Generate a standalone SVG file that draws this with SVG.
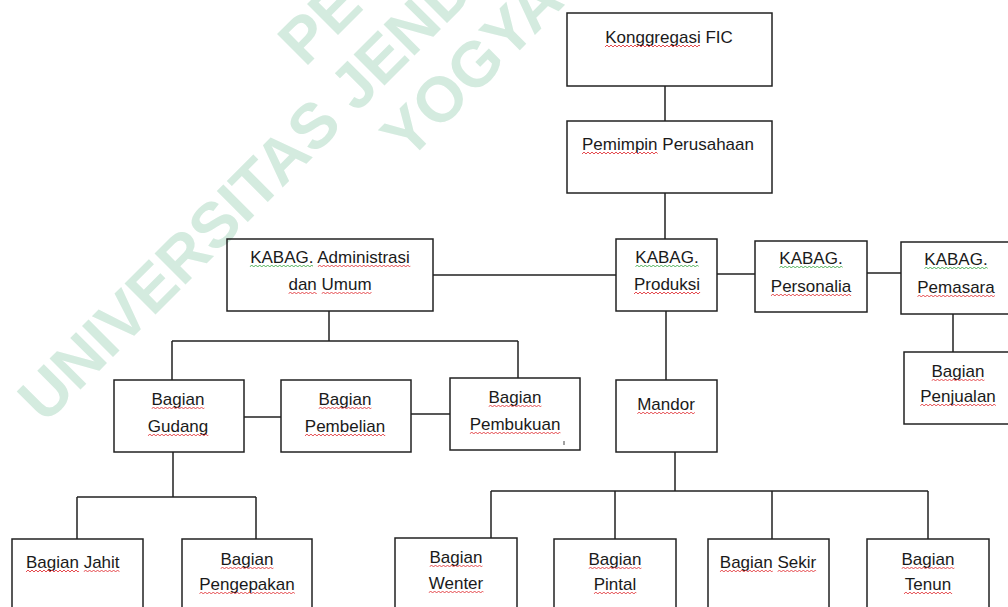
<svg xmlns="http://www.w3.org/2000/svg" xmlns:xlink="http://www.w3.org/1999/xlink" width="1008" height="607" viewBox="0 0 1008 607">
<style>
.box{fill:none;stroke:#222;stroke-width:1.5}
.ln{fill:none;stroke:#222;stroke-width:1.5}
.t{font-family:"Liberation Sans",Arial,sans-serif;font-size:17px;fill:#1a1a1a;text-anchor:middle}
.ts{font-family:"Liberation Sans",Arial,sans-serif;font-size:17px;fill:#1a1a1a}
.wm{font-family:"Liberation Sans",Arial,sans-serif;font-size:63.6px;font-weight:bold;fill:#d4ebdf}
.r{stroke:#e2383c}
.g{stroke:#3ea84a}
</style>
<defs>
<path id="sq" fill="none" stroke-width="0.9" d="M0 2.5l2-2 2 2 2-2 2 2 2-2 2 2 2-2 2 2 2-2 2 2 2-2 2 2 2-2 2 2 2-2 2 2 2-2 2 2 2-2 2 2 2-2 2 2 2-2 2 2 2-2 2 2 2-2 2 2 2-2 2 2 2-2 2 2 2-2 2 2 2-2 2 2 2-2 2 2 2-2 2 2 2-2 2 2 2-2 2 2 2-2 2 2 2-2 2 2 2-2 2 2 2-2 2 2 2-2 2 2 2-2 2 2 2-2 2 2 2-2 2 2 2-2 2 2 2-2 2 2"/>
</defs>
<rect width="1008" height="607" fill="#fff"/>
<g id="watermark" transform="rotate(-45)">
<text class="wm" x="167.6" y="263.8">PE</text>
<text class="wm" x="-268.7" y="332.3">UNIVERSITAS JEND</text>
<text class="wm" x="174" y="403">YOGYA</text>
</g>
<g id="connectors">
<path class="ln" d="M665 86V121M665 193V239M433 275H616M717 274H755M867 273H901M953 314V352M666 311V380"/>
<path class="ln" d="M329 311V341M172 341H518M172 341V380M518 341V378M244 417H281M411 414H450"/>
<path class="ln" d="M173 452V497M77 497H256M77 497V539M256 497V539"/>
<path class="ln" d="M675 452V491M491 491H928M491 491V538M615 491V539M772 491V539M928 491V539"/>
</g>
<g id="n-konggregasi">
<rect class="box" x="567" y="13" width="205" height="73"/>
<text class="t" x="669" y="43">Konggregasi FIC</text>
<svg x="605" y="44.5" width="95" height="3"><use href="#sq" class="r"/></svg>
</g>
<g id="n-pemimpin">
<rect class="box" x="567" y="121" width="205" height="72"/>
<text class="t" x="668" y="150">Pemimpin Perusahaan</text>
<svg x="582" y="151.5" width="75.6" height="3"><use href="#sq" class="r"/></svg>
</g>
<g id="n-admin">
<rect class="box" x="227" y="239" width="206" height="72"/>
<text class="t" x="330" y="263">KABAG. Administrasi</text>
<text class="t" x="330" y="290">dan Umum</text>
<svg x="249.7" y="264.5" width="63.3" height="3"><use href="#sq" class="g"/></svg>
<svg x="317.7" y="264.5" width="92.6" height="3"><use href="#sq" class="r"/></svg>
<svg x="288.4" y="291.5" width="28.4" height="3"><use href="#sq" class="r"/></svg>
<svg x="321.5" y="291.5" width="50" height="3"><use href="#sq" class="r"/></svg>
</g>
<g id="n-produksi">
<rect class="box" x="616" y="239" width="101" height="72"/>
<text class="t" x="667" y="263">KABAG.</text>
<text class="t" x="667" y="290">Produksi</text>
<svg x="635.3" y="264.5" width="63.3" height="3"><use href="#sq" class="g"/></svg>
<svg x="634" y="291.5" width="66.1" height="3"><use href="#sq" class="r"/></svg>
</g>
<g id="n-personalia">
<rect class="box" x="755" y="241" width="112" height="71"/>
<text class="t" x="811" y="264">KABAG.</text>
<text class="t" x="811" y="292">Personalia</text>
<svg x="779.3" y="265.5" width="63.3" height="3"><use href="#sq" class="g"/></svg>
<svg x="770.8" y="293.5" width="80.3" height="3"><use href="#sq" class="r"/></svg>
</g>
<g id="n-pemasara">
<rect class="box" x="901" y="242" width="120" height="72"/>
<text class="t" x="956" y="265">KABAG.</text>
<text class="t" x="956" y="293">Pemasara</text>
<svg x="924.3" y="266.5" width="63.3" height="3"><use href="#sq" class="g"/></svg>
<svg x="917.3" y="294.5" width="77.5" height="3"><use href="#sq" class="r"/></svg>
</g>
<g id="n-penjualan">
<rect class="box" x="904" y="352" width="120" height="72"/>
<text class="t" x="958" y="377">Bagian</text>
<text class="t" x="958" y="402">Penjualan</text>
<svg x="931.5" y="378.5" width="52.9" height="3"><use href="#sq" class="r"/></svg>
<svg x="920.2" y="403.5" width="75.6" height="3"><use href="#sq" class="r"/></svg>
</g>
<g id="n-gudang">
<rect class="box" x="114" y="380" width="130" height="72"/>
<text class="t" x="178" y="405">Bagian</text>
<text class="t" x="178" y="432">Gudang</text>
<svg x="151.5" y="406.5" width="52.9" height="3"><use href="#sq" class="r"/></svg>
<svg x="147.8" y="433.5" width="60.5" height="3"><use href="#sq" class="r"/></svg>
</g>
<g id="n-pembelian">
<rect class="box" x="281" y="380" width="130" height="72"/>
<text class="t" x="345" y="405">Bagian</text>
<text class="t" x="345" y="432">Pembelian</text>
<svg x="318.5" y="406.5" width="52.9" height="3"><use href="#sq" class="r"/></svg>
<svg x="304.9" y="433.5" width="80.3" height="3"><use href="#sq" class="r"/></svg>
</g>
<g id="n-pembukuan">
<rect class="box" x="450" y="378" width="130" height="72"/>
<text class="t" x="515" y="403">Bagian</text>
<text class="t" x="515" y="430">Pembukuan</text>
<svg x="488.5" y="404.5" width="52.9" height="3"><use href="#sq" class="r"/></svg>
<svg x="469.7" y="431.5" width="90.7" height="3"><use href="#sq" class="r"/></svg>
<path d="M564 441V445" stroke="#444" stroke-width="1"/>
</g>
<g id="n-mandor">
<rect class="box" x="616" y="380" width="101" height="72"/>
<text class="t" x="666" y="410">Mandor</text>
<svg x="637.2" y="411.5" width="57.6" height="3"><use href="#sq" class="r"/></svg>
</g>
<g id="n-jahit">
<rect class="box" x="12" y="539" width="131" height="80"/>
<text class="ts" x="26" y="568">Bagian Jahit</text>
<svg x="26" y="569.5" width="52.9" height="3"><use href="#sq" class="r"/></svg>
<svg x="83.6" y="569.5" width="35.9" height="3"><use href="#sq" class="r"/></svg>
</g>
<g id="n-pengepakan">
<rect class="box" x="182" y="539" width="130" height="80"/>
<text class="t" x="247" y="565">Bagian</text>
<text class="t" x="247" y="590">Pengepakan</text>
<svg x="220.5" y="566.5" width="52.9" height="3"><use href="#sq" class="r"/></svg>
<svg x="199.3" y="591.5" width="95.5" height="3"><use href="#sq" class="r"/></svg>
</g>
<g id="n-wenter">
<rect class="box" x="395" y="538" width="122" height="80"/>
<text class="t" x="456" y="563">Bagian</text>
<text class="t" x="456" y="589">Wenter</text>
<svg x="429.5" y="564.5" width="52.9" height="3"><use href="#sq" class="r"/></svg>
<svg x="428.6" y="590.5" width="54.8" height="3"><use href="#sq" class="r"/></svg>
</g>
<g id="n-pintal">
<rect class="box" x="554" y="539" width="122" height="80"/>
<text class="t" x="615" y="565">Bagian</text>
<text class="t" x="615" y="590">Pintal</text>
<svg x="588.5" y="566.5" width="52.9" height="3"><use href="#sq" class="r"/></svg>
<svg x="593.8" y="591.5" width="42.5" height="3"><use href="#sq" class="r"/></svg>
</g>
<g id="n-sekir">
<rect class="box" x="708" y="539" width="121" height="80"/>
<text class="t" x="768" y="568">Bagian Sekir</text>
<svg x="719.8" y="569.5" width="52.9" height="3"><use href="#sq" class="r"/></svg>
<svg x="777.4" y="569.5" width="38.7" height="3"><use href="#sq" class="r"/></svg>
</g>
<g id="n-tenun">
<rect class="box" x="867" y="539" width="122" height="80"/>
<text class="t" x="928" y="565">Bagian</text>
<text class="t" x="928" y="590">Tenun</text>
<svg x="901.5" y="566.5" width="52.9" height="3"><use href="#sq" class="r"/></svg>
<svg x="903.9" y="591.5" width="48.2" height="3"><use href="#sq" class="r"/></svg>
</g>
</svg>
